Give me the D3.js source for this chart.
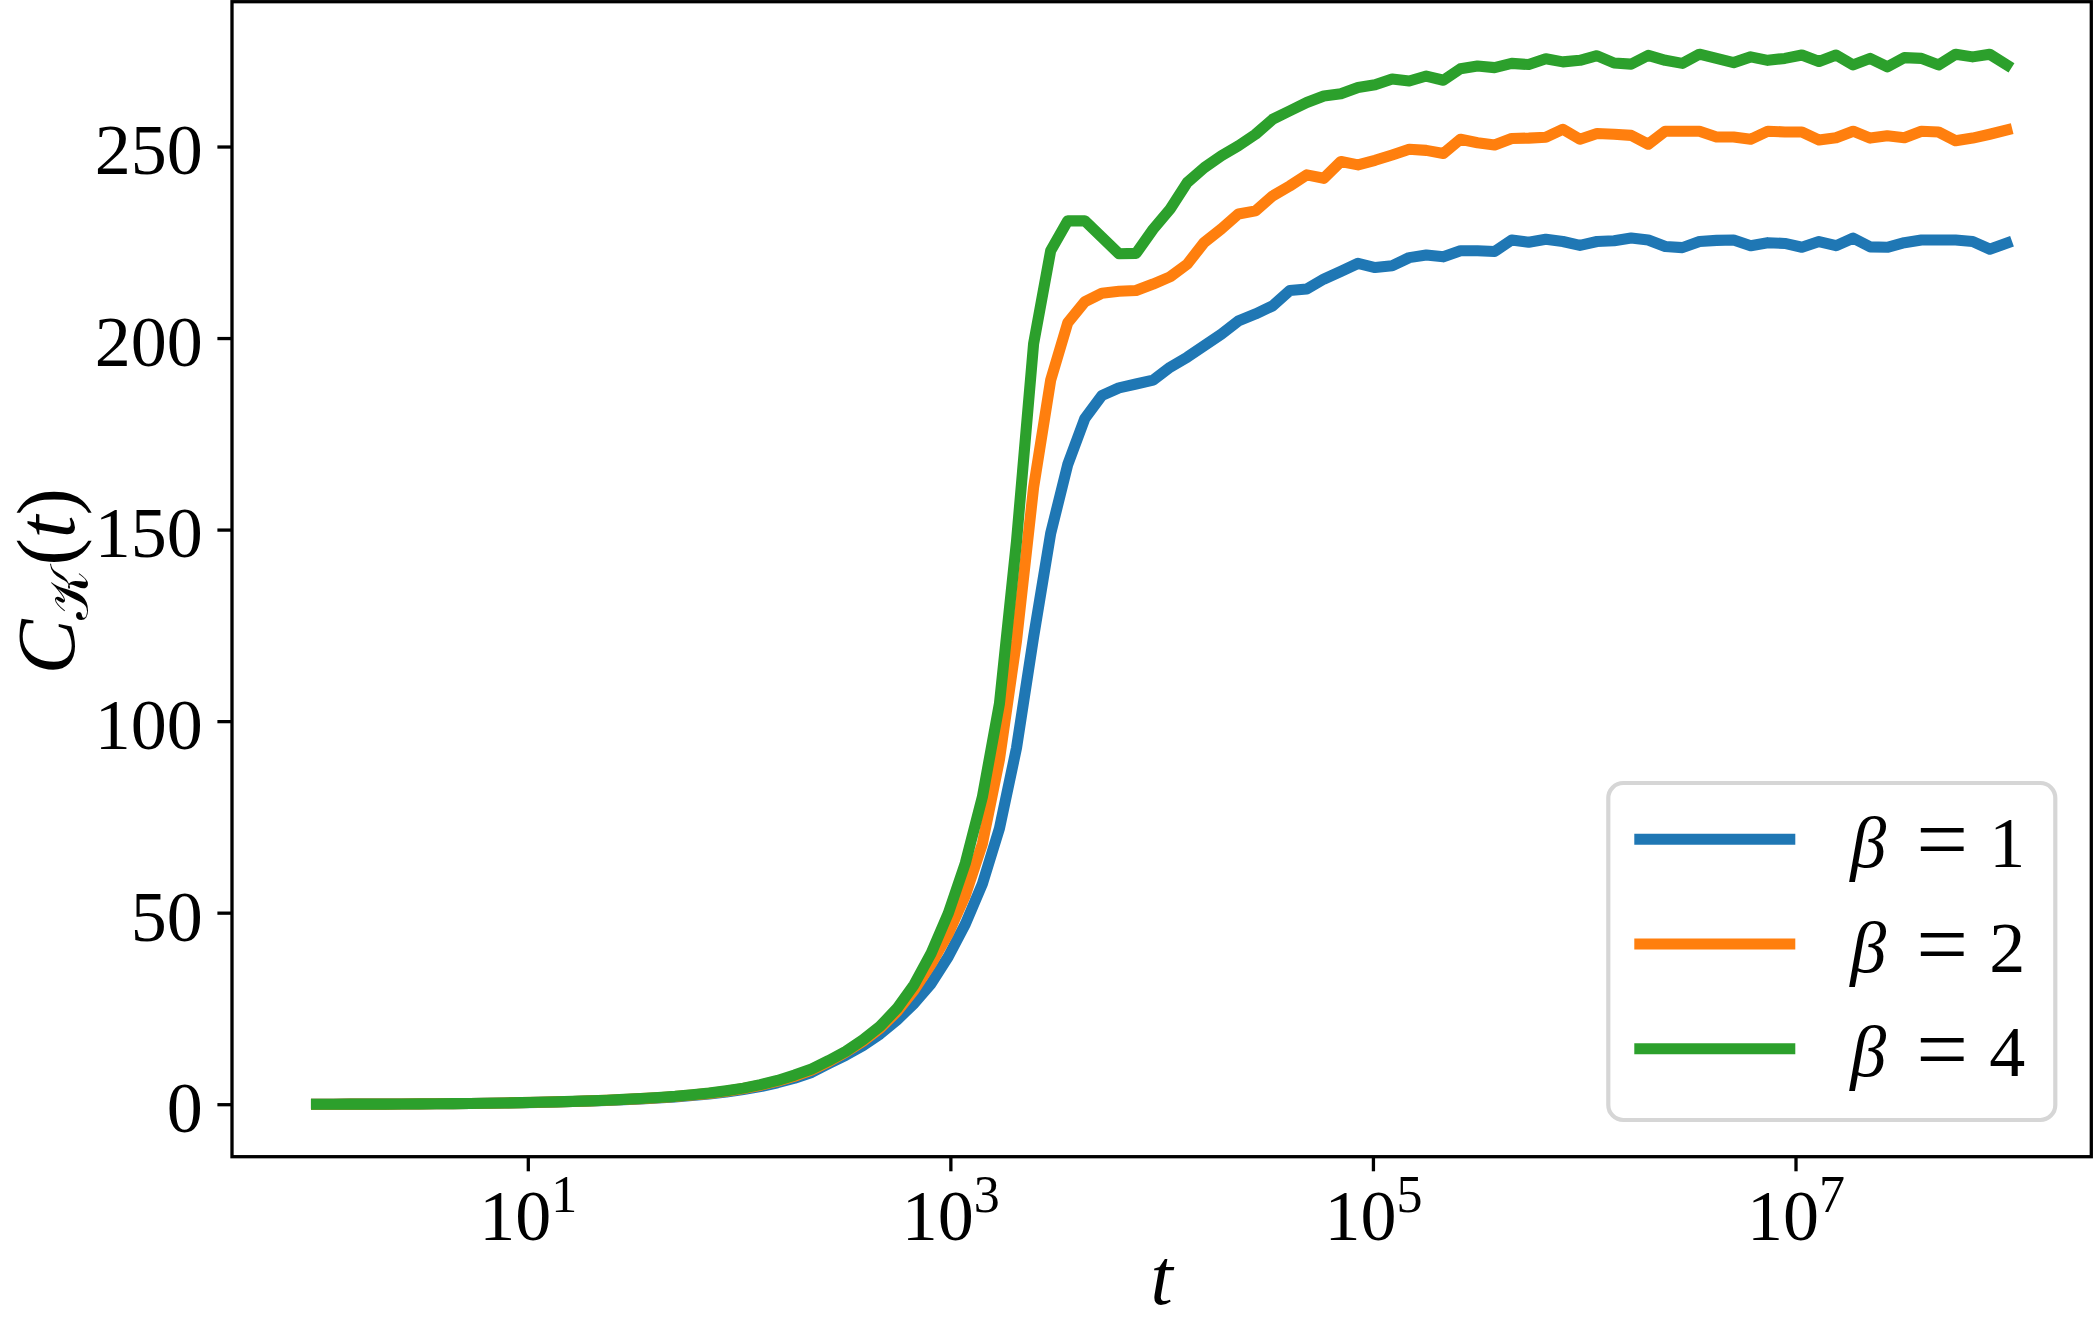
<!DOCTYPE html>
<html>
<head>
<meta charset="utf-8">
<script src="https://cdn.jsdelivr.net/npm/d3@7"></script>
<style>
  body { margin: 0; background: #ffffff; }
  svg { display: block; }
</style>
</head>
<body>
<div id="chart"></div>
<script>
// Values, one per sample time
var betas = [1, 2, 4];
var beta1 = [0, 0, 0.01, 0.02, 0.03, 0.05, 0.07, 0.1, 0.14, 0.19,
  0.24, 0.3, 0.38, 0.47, 0.57, 0.69, 0.82, 0.98, 1.16, 1.38,
  1.62, 1.9, 2.25, 2.67, 3.2, 3.85, 4.6, 5.6, 6.8, 8.3,
  10.6, 12.8, 15.3, 18.3, 22, 26.3, 31.5, 38.5, 47, 57.5,
  72, 93, 122, 149, 167, 179, 185, 187, 188, 189,
  192.4, 195, 198, 201, 204.5, 206.3, 208.4, 212.4, 212.8, 215.4,
  217.4, 219.5, 218.4, 218.9, 221, 221.7, 221.2, 222.8, 222.8, 222.6,
  225.6, 225, 225.8, 225.2, 224.2, 225.2, 225.4, 226.1, 225.6, 223.9,
  223.6, 225.2, 225.5, 225.6, 224.1, 224.9, 224.7, 223.7, 225.2, 224.1,
  226.1, 223.8, 223.7, 224.9, 225.6, 225.6, 225.6, 225.2, 223.2, 224.8];
var beta2 = [0, 0, 0.01, 0.02, 0.03, 0.05, 0.08, 0.11, 0.15, 0.2,
  0.25, 0.32, 0.4, 0.5, 0.6, 0.72, 0.86, 1.03, 1.22, 1.46,
  1.7, 2.0, 2.38, 2.82, 3.4, 4.1, 4.95, 6.0, 7.3, 8.9,
  11.1, 13.6, 16.4, 19.8, 24.2, 29.8, 36.6, 44.5, 54.5, 68,
  90, 121, 161, 189, 204, 209.5, 211.7, 212.2, 212.4, 214.1,
  216, 219.3, 225, 228.5, 232.4, 233.2, 237.1, 239.7, 242.6, 241.7,
  246.1, 245.2, 246.4, 247.8, 249.3, 249, 248.2, 251.9, 251, 250.4,
  252.1, 252.2, 252.4, 254.5, 251.9, 253.4, 253.2, 252.9, 250.6, 254,
  254, 254, 252.5, 252.5, 251.9, 254, 253.8, 253.8, 251.7, 252.3,
  254, 252.2, 252.8, 252.3, 254, 253.8, 251.5, 252.2, 253.2, 254.3];
var beta4 = [0, 0, 0.01, 0.02, 0.03, 0.05, 0.08, 0.11, 0.15, 0.2,
  0.25, 0.32, 0.4, 0.5, 0.6, 0.73, 0.88, 1.05, 1.25, 1.5,
  1.75, 2.05, 2.45, 2.9, 3.5, 4.2, 5.1, 6.2, 7.6, 9.2,
  11.4, 13.8, 16.8, 20.3, 25, 31.2, 39.4, 49.8, 62.9, 80.2,
  104.6, 147, 198.5, 222.8, 230.6, 230.6, 226.3, 222, 222.1, 228.4,
  233.7, 240.6, 244.5, 247.6, 250.2, 253.2, 257.1, 259.3, 261.5, 263.2,
  263.8, 265.4, 266.1, 267.6, 267.1, 268.4, 267.3, 270.3, 271, 270.6,
  271.7, 271.4, 272.9, 272.1, 272.5, 273.7, 271.8, 271.5, 273.8, 272.5,
  271.7, 274.1, 273, 271.9, 273.4, 272.5, 273, 273.9, 272.2, 273.9,
  271.3, 273, 270.8, 273.2, 273, 271.3, 274.1, 273.4, 274.1, 271.3];
var yTickValues = [0, 50, 100, 150, 200, 250];
var xTickExponents = [1, 3, 5, 7];
var colors = ["#1f77b4", "#ff7f0e", "#2ca02c"];

// sample times: 100 log-spaced points from 10^0 to 10^8
var times = d3.range(100).map(i => Math.pow(10, 8 * i / 99));

var svgWidth = 2094;
var svgHeight = 1322;

var margin = {
  top: 1.7,
  right: 2.7,
  bottom: 165.3,
  left: 232
};

var width = svgWidth - margin.left - margin.right;
var height = svgHeight - margin.top - margin.bottom;

var serif = "'Liberation Serif', 'Times New Roman', serif";

var svg = d3.select("#chart")
  .append("svg")
  .attr("width", svgWidth)
  .attr("height", svgHeight)
  .style("background", "#ffffff");

var chartGroup = svg.append("g")
  .attr("transform", `translate(${margin.left}, ${margin.top})`);

var series = [beta1, beta2, beta4].map(function(vals, k) {
  return {
    beta: betas[k],
    color: colors[k],
    points: vals.map((v, i) => ({ t: times[i], v: v }))
  };
});

// Scales (5% padding like matplotlib autoscale)
var logMin = Math.log10(d3.min(times));
var logMax = Math.log10(d3.max(times));
var logPad = 0.05 * (logMax - logMin);
var xLogScale = d3.scaleLog()
  .domain([Math.pow(10, logMin - logPad), Math.pow(10, logMax + logPad)])
  .range([0, width]);

var allValues = beta1.concat(beta2, beta4);
var vMin = d3.min(allValues);
var vMax = d3.max(allValues);
var vPad = 0.05 * (vMax - vMin);
var yLinearScale = d3.scaleLinear()
  .domain([vMin - vPad, vMax + vPad])
  .range([height, 0]);

// Axes
var leftAxis = d3.axisLeft(yLinearScale)
  .tickValues(yTickValues)
  .tickSize(14.6)
  .tickSizeOuter(0)
  .tickPadding(14.6);

var bottomAxis = d3.axisBottom(xLogScale)
  .tickValues(xTickExponents.map(e => Math.pow(10, e)))
  .tickSize(14.6)
  .tickSizeOuter(0)
  .tickPadding(14.6)
  .tickFormat("");

var yAxisGroup = chartGroup.append("g")
  .call(leftAxis);
yAxisGroup.select(".domain").remove();
yAxisGroup.selectAll(".tick line")
  .attr("stroke", "#000")
  .attr("stroke-width", 3.3);
yAxisGroup.selectAll(".tick text")
  .attr("font-family", serif)
  .attr("font-size", 72)
  .attr("fill", "#000")
  .attr("dy", "0.38em");

var xAxisGroup = chartGroup.append("g")
  .attr("transform", `translate(0, ${height})`)
  .call(bottomAxis);
xAxisGroup.select(".domain").remove();
xAxisGroup.selectAll(".tick line")
  .attr("stroke", "#000")
  .attr("stroke-width", 3.3);
xAxisGroup.selectAll(".tick text")
  .attr("font-family", serif)
  .attr("font-size", 72)
  .attr("fill", "#000")
  .attr("dy", "0.75em")
  .each(function(d, i) {
    var label = d3.select(this);
    label.text(null);
    label.append("tspan").text("10");
    label.append("tspan")
      .attr("dy", -28)
      .attr("font-size", 52)
      .text(xTickExponents[i]);
  });

// Lines
var lineGen = d3.line()
  .x(d => xLogScale(d.t))
  .y(d => yLinearScale(d.v));

chartGroup.selectAll(".series")
  .data(series)
  .enter()
  .append("path")
  .attr("class", "series")
  .attr("d", d => lineGen(d.points))
  .attr("fill", "none")
  .attr("stroke", d => d.color)
  .attr("stroke-width", 11.1)
  .attr("stroke-linecap", "square")
  .attr("stroke-linejoin", "round");

// Frame
chartGroup.append("rect")
  .attr("x", 0)
  .attr("y", 0)
  .attr("width", width)
  .attr("height", height)
  .attr("fill", "none")
  .attr("stroke", "#000")
  .attr("stroke-width", 3.3);

// Axis labels
var yLabel = svg.append("text")
  .attr("transform", `translate(74, ${margin.top + height / 2 + 2}) rotate(-90)`)
  .attr("text-anchor", "middle")
  .attr("font-family", serif)
  .attr("font-size", 82)
  .attr("fill", "#000");
yLabel.append("tspan").attr("font-style", "italic").text("C");
yLabel.append("tspan")
  .attr("font-family", "'DejaVu Serif', 'DejaVu Sans', serif")
  .attr("font-size", 54)
  .attr("dy", 14)
  .text("\u{1D4A6}");
yLabel.append("tspan").attr("dy", -14).attr("dx", 4).text("(");
yLabel.append("tspan").attr("font-style", "italic").text("t");
yLabel.append("tspan").text(")");

svg.append("text")
  .attr("x", margin.left + width / 2)
  .attr("y", 1304)
  .attr("text-anchor", "middle")
  .attr("font-family", serif)
  .attr("font-style", "italic")
  .attr("font-size", 80)
  .attr("fill", "#000")
  .text("t");

// Legend (lower right)
var legendW = 447, legendH = 337;
var legendGroup = svg.append("g")
  .attr("transform", `translate(${margin.left + width - 36 - legendW}, ${margin.top + height - 36.7 - legendH})`);

legendGroup.append("rect")
  .attr("width", legendW)
  .attr("height", legendH)
  .attr("rx", 15)
  .attr("ry", 15)
  .attr("fill", "#ffffff")
  .attr("stroke", "#d6d6d6")
  .attr("stroke-width", 4.2);

var rows = legendGroup.selectAll(".legend-row")
  .data(series)
  .enter()
  .append("g")
  .attr("class", "legend-row")
  .attr("transform", (d, i) => `translate(0, ${56.3 + i * 104.7})`);

rows.append("line")
  .attr("x1", 26)
  .attr("x2", 187)
  .attr("y1", 0)
  .attr("y2", 0)
  .attr("stroke", d => d.color)
  .attr("stroke-width", 11.1);

var rowText = rows.append("text")
  .attr("font-family", serif)
  .attr("font-size", 72)
  .attr("fill", "#000");
rowText.append("tspan")
  .attr("x", 242)
  .attr("y", 27.5)
  .attr("font-style", "italic")
  .text("\u03B2");
rowText.append("tspan")
  .attr("x", 308)
  .attr("y", 31)
  .attr("font-size", 92)
  .text("=");
rowText.append("tspan")
  .attr("x", 381)
  .attr("y", 27.5)
  .text(d => d.beta);
</script>
</body>
</html>
